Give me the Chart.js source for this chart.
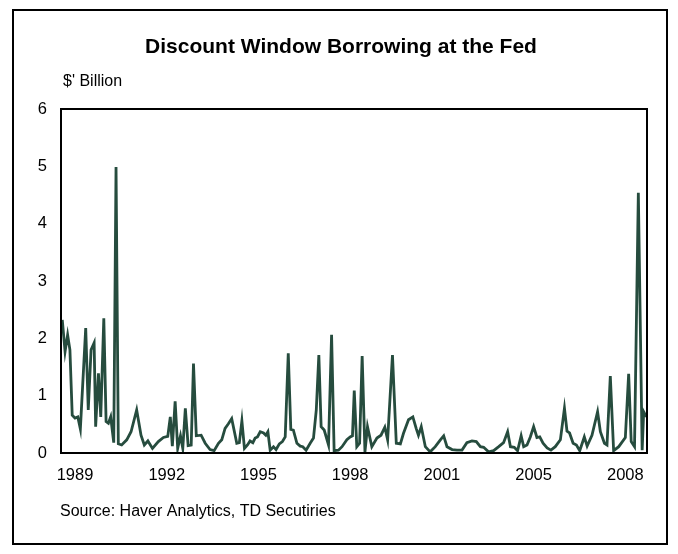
<!DOCTYPE html>
<html>
<head>
<meta charset="utf-8">
<script src="https://cdn.jsdelivr.net/npm/chart.js@4"></script>
<style>
  body { margin: 0; background: #fff; }
</style>
</head>
<body>
<canvas id="myChart" width="678" height="554"></canvas>
<script>
// month position (index from Jan 1989) and borrowing in $ billion
const months = [0.5, 1.6, 2.6, 3.5, 4.4, 5.5, 6.6, 7.6, 9.7, 10.7, 11.8, 13.0, 13.6, 14.7, 15.6, 16.8, 17.7, 18.6, 19.5, 20.7,
  21.6, 22.5, 23.8, 25.8, 27.5, 29.7, 31.4, 32.7, 34.1, 35.9, 38.2, 40.2, 41.9, 42.9, 43.7, 44.8, 45.8, 46.9, 47.8, 48.8,
  49.9, 51.1, 52.0, 53.1, 55.0, 56.6, 58.5, 60.1, 61.8, 63.1, 64.4, 65.7, 67.0, 69.0, 70.0, 71.0, 72.0, 73.2, 74.2, 75.3,
  76.2, 77.1, 78.2, 79.5, 80.4, 81.2, 82.1, 83.4, 84.4, 85.7, 86.9, 88.0, 89.2, 90.2, 91.2, 92.6, 93.9, 94.9, 96.2, 97.8,
  99.1, 100.2, 101.2, 102.1, 103.3, 105.0, 106.2, 107.2, 108.9, 110.3, 112.2, 113.5, 114.4, 115.1, 116.1, 117.2, 118.2, 119.3, 120.3, 122.0,
  124.0, 125.6, 127.1, 128.2, 130.1, 131.6, 133.2, 134.4, 136.4, 138.1, 139.4, 140.3, 141.4, 143.0, 144.9, 146.9, 148.9, 150.2, 151.5, 153.5,
  155.4, 157.4, 159.3, 161.3, 163.0, 164.6, 165.9, 167.8, 169.8, 171.8, 173.7, 175.3, 176.4, 177.9, 179.2, 180.6, 181.6, 182.9, 184.2, 185.5,
  186.8, 187.9, 189.2, 190.8, 192.3, 194.0, 196.0, 197.6, 198.6, 199.6, 201.0, 202.3, 203.6, 205.4, 206.5, 208.4, 210.6, 211.7, 213.3, 214.3,
  215.6, 216.9, 218.9, 221.5, 222.8, 223.8, 225.1, 226.6, 228.1, 228.7, 229.8]
const borrowing = [2.32, 1.77, 2.06, 1.8, 0.66, 0.61, 0.63, 0.42, 2.18, 0.75, 1.8, 1.92, 0.46, 1.39, 0.63, 2.35, 0.55, 0.52, 0.63, 0.18,
  4.99, 0.16, 0.14, 0.23, 0.37, 0.75, 0.31, 0.14, 0.21, 0.08, 0.2, 0.27, 0.29, 0.63, 0.12, 0.9, 0.08, 0.3, 0.08, 0.78,
  0.13, 0.14, 1.56, 0.3, 0.31, 0.17, 0.06, 0.04, 0.17, 0.23, 0.43, 0.51, 0.6, 0.17, 0.18, 0.56, 0.08, 0.14, 0.21, 0.18,
  0.26, 0.28, 0.37, 0.35, 0.31, 0.37, 0.05, 0.11, 0.06, 0.16, 0.2, 0.28, 1.74, 0.41, 0.4, 0.17, 0.12, 0.11, 0.05, 0.17,
  0.26, 0.75, 1.71, 0.46, 0.4, 0.14, 2.06, 0.04, 0.05, 0.11, 0.23, 0.28, 0.3, 1.09, 0.11, 0.17, 1.69, 0.02, 0.46, 0.11,
  0.26, 0.31, 0.45, 0.23, 1.71, 0.17, 0.16, 0.34, 0.58, 0.63, 0.43, 0.31, 0.46, 0.11, 0.02, 0.11, 0.23, 0.3, 0.11, 0.06,
  0.05, 0.05, 0.18, 0.21, 0.2, 0.11, 0.1, 0.02, 0.04, 0.11, 0.18, 0.37, 0.11, 0.1, 0.04, 0.3, 0.11, 0.14, 0.28, 0.46,
  0.27, 0.28, 0.17, 0.09, 0.05, 0.11, 0.23, 0.78, 0.38, 0.35, 0.17, 0.14, 0.04, 0.28, 0.12, 0.31, 0.72, 0.37, 0.17, 0.14,
  1.34, 0.04, 0.11, 0.27, 1.38, 0.2, 0.11, 4.54, 0.05, 0.72, 0.63]

const tickPos = [5.5, 41.5, 77.5, 113.5, 149.5, 185.5, 221.5]
const tickLabels = ['1989', '1992', '1995', '1998', '2001', '2005', '2008']

const points = months.map((m, i) => ({ x: m, y: borrowing[i] }))

const FONT = 'Arial, "Liberation Sans", sans-serif'

const decor = {
  id: 'decor',
  beforeDraw(chart) {
    const c = chart.ctx
    c.save()
    c.fillStyle = '#fff'
    c.fillRect(0, 0, chart.width, chart.height)
    c.strokeStyle = '#000'
    c.lineWidth = 2
    c.strokeRect(13, 10, 654, 534)
    c.fillStyle = '#000'
    c.textBaseline = 'middle'
    c.textAlign = 'center'
    c.font = 'bold 21px ' + FONT
    c.fillText('Discount Window Borrowing at the Fed', 341, 47)
    c.textAlign = 'left'
    c.font = '16px ' + FONT
    c.fillText("$' Billion", 63, 82)
    c.fillText('Source: Haver Analytics, TD Secutiries', 60, 512)
    c.restore()
  },
  afterDatasetsDraw(chart) {
    const a = chart.chartArea
    const c = chart.ctx
    c.save()
    c.strokeStyle = '#000'
    c.lineWidth = 2
    c.strokeRect(a.left, a.top, a.right - a.left, a.bottom - a.top)
    c.restore()
  }
}

new Chart(document.getElementById('myChart'), {
  type: 'line',
  data: {
    datasets: [{
      data: points,
      borderColor: '#264c3e',
      borderWidth: 2.8,
      pointRadius: 0,
      tension: 0,
      fill: false
    }]
  },
  options: {
    responsive: false,
    animation: false,
    layout: { padding: { left: 31, right: 31, top: 109, bottom: 61 } },
    plugins: {
      legend: { display: false },
      tooltip: { enabled: false }
    },
    scales: {
      x: {
        type: 'linear',
        min: 0,
        max: 230,
        afterFit: s => { s.height = 40 },
        afterBuildTicks: s => { s.ticks = tickPos.map(v => ({ value: v })) },
        grid: { display: false, drawTicks: false },
        border: { display: false },
        ticks: {
          color: '#000',
          font: { family: FONT, size: 16.5 },
          padding: 13,
          maxRotation: 0,
          autoSkip: false,
          callback: (v, i) => tickLabels[i]
        }
      },
      y: {
        min: 0,
        max: 6,
        afterFit: s => { s.width = 30 },
        grid: { display: false, drawTicks: false },
        border: { display: false },
        ticks: {
          stepSize: 1,
          color: '#000',
          font: { family: FONT, size: 16.5 },
          padding: 14
        }
      }
    }
  },
  plugins: [decor]
})
</script>
</body>
</html>
